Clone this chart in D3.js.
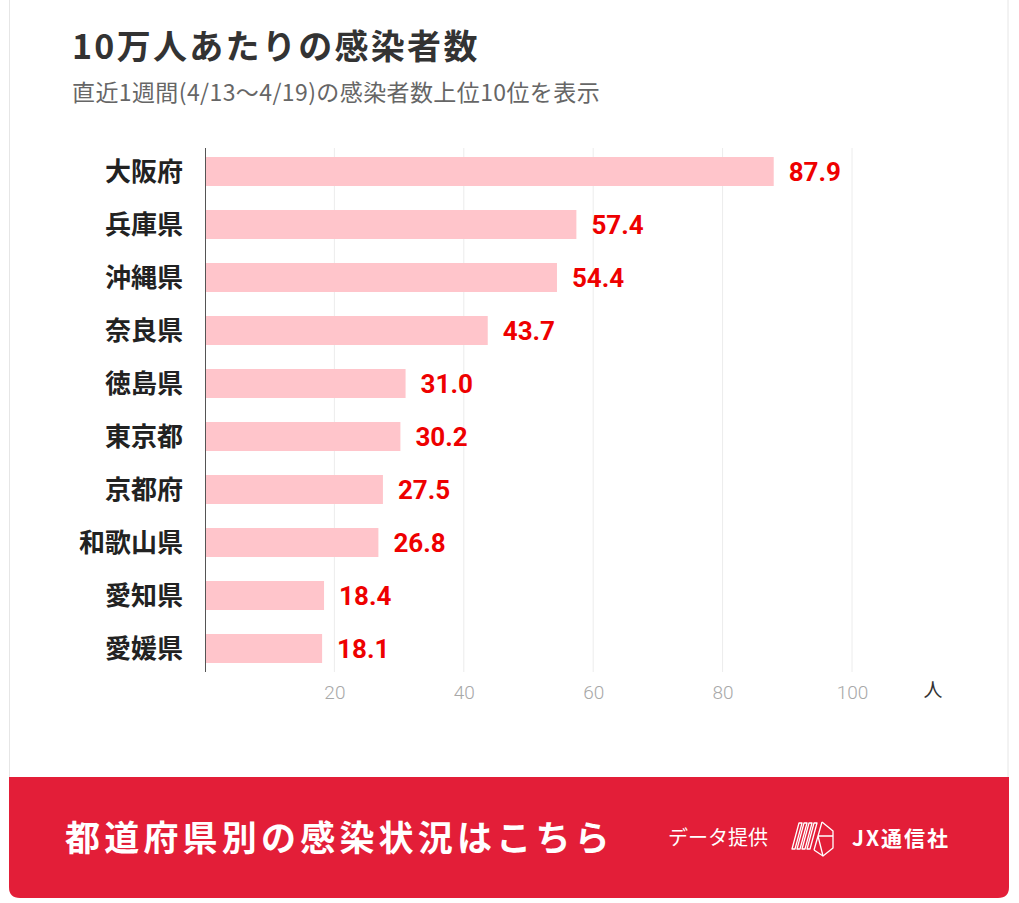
<!DOCTYPE html>
<html>
<head>
<meta charset="utf-8">
<script src="https://cdn.jsdelivr.net/npm/d3@7"></script>
<style>
  html, body { margin: 0; padding: 0; background: #fff; }
  svg { display: block; }
</style>
</head>
<body>
<svg id="chart" width="1019" height="903"></svg>
<script>
// data
const prefectures = ['大阪府', '兵庫県', '沖縄県', '奈良県', '徳島県', '東京都', '京都府', '和歌山県', '愛知県', '愛媛県']
const perCapita = [87.9, 57.4, 54.4, 43.7, 31.0, 30.2, 27.5, 26.8, 18.4, 18.1]
const tickValues = [20, 40, 60, 80, 100]

const jp = '"Noto Sans CJK JP", "Noto Sans", sans-serif'
const num = 'Roboto, "Noto Sans", sans-serif'

const svg = d3.select('#chart')

// card background + border
svg.append('path')
  .attr('d', 'M9.5,-2 V887 Q9.5,897 19.5,897 H998 Q1008,897 1008,887 V-2')
  .attr('fill', '#fff')
  .attr('stroke', '#e6e6e6')
  .attr('stroke-width', 1)

// title
svg.append('text')
  .attr('x', 72).attr('y', 59)
  .attr('font-family', jp).attr('font-weight', 700)
  .attr('font-size', 34).attr('letter-spacing', 2.3)
  .attr('fill', '#333')
  .text('10万人あたりの感染者数')

svg.append('text')
  .attr('x', 72).attr('y', 101)
  .attr('font-family', jp)
  .attr('font-size', 23).attr('letter-spacing', 0.4)
  .attr('fill', '#666')
  .text('直近1週間(4/13〜4/19)の感染者数上位10位を表示')

// scales
const x = d3.scaleLinear().domain([0, 100]).range([205, 852])
const y = d3.scaleBand().domain(prefectures).range([148, 672])
  .paddingInner(0.453).paddingOuter(0.17)

// gridlines
svg.append('g')
  .selectAll('line')
  .data(tickValues)
  .join('line')
  .attr('x1', d => x(d)).attr('x2', d => x(d))
  .attr('y1', 148).attr('y2', 672)
  .attr('stroke', '#ececec')
  .attr('stroke-width', 1)

// x axis tick labels
const axis = svg.append('g')
  .attr('transform', 'translate(0,672)')
  .call(d3.axisBottom(x).tickValues(tickValues).tickSize(0).tickPadding(14))
axis.select('.domain').remove()
axis.selectAll('text')
  .attr('font-family', num)
  .attr('font-weight', 300)
  .attr('font-size', 19)
  .attr('fill', '#a8a8a8')

svg.append('text')
  .attr('x', 933).attr('y', 697)
  .attr('text-anchor', 'middle')
  .attr('font-family', jp)
  .attr('font-size', 19)
  .attr('fill', '#333')
  .text('人')

// bars
svg.append('g')
  .selectAll('rect')
  .data(perCapita)
  .join('rect')
  .attr('x', x(0))
  .attr('y', (d, i) => y(prefectures[i]))
  .attr('width', d => x(d) - x(0))
  .attr('height', y.bandwidth())
  .attr('fill', '#ffc5cb')

// y axis line
svg.append('line')
  .attr('x1', 205.5).attr('x2', 205.5)
  .attr('y1', 148).attr('y2', 672)
  .attr('stroke', '#555')
  .attr('stroke-width', 1)

// category labels
svg.append('g')
  .selectAll('text')
  .data(prefectures)
  .join('text')
  .attr('x', 183)
  .attr('y', d => y(d) + y.bandwidth() / 2)
  .attr('dy', '0.36em')
  .attr('text-anchor', 'end')
  .attr('font-family', jp).attr('font-weight', 700)
  .attr('font-size', 26)
  .attr('fill', '#222')
  .text(d => d)

// value labels
svg.append('g')
  .selectAll('text')
  .data(perCapita)
  .join('text')
  .attr('x', d => x(d) + 15)
  .attr('y', (d, i) => y(prefectures[i]) + y.bandwidth() / 2)
  .attr('dy', '0.36em')
  .attr('font-family', num).attr('font-weight', 700)
  .attr('font-size', 26)
  .attr('fill', '#ee0000')
  .text(d => d.toFixed(1))

// footer
svg.append('path')
  .attr('d', 'M9,777 H1009 V887 Q1009,898 998,898 H20 Q9,898 9,887 Z')
  .attr('fill', '#e31e38')

svg.append('text')
  .attr('x', 65).attr('y', 851)
  .attr('font-family', jp).attr('font-weight', 700)
  .attr('font-size', 35).attr('letter-spacing', 4.2)
  .attr('fill', '#fff')
  .text('都道府県別の感染状況はこちら')

svg.append('text')
  .attr('x', 668).attr('y', 845)
  .attr('font-family', jp)
  .attr('font-size', 20)
  .attr('fill', '#fff')
  .text('データ提供')

// logo
const logo = svg.append('g')
  .attr('transform', 'translate(793,820)')
  .attr('fill', 'none')
  .attr('stroke', '#fff')
  .attr('stroke-width', 1.3)
  .attr('stroke-linejoin', 'round')
logo.append('path').attr('d', 'M29,2 L40,11 L40,28 L30,36 L21,30')
logo.append('path').attr('d', 'M29,2 L21,30 M25,16 L40,16 M25,16 L30,36')
const stripes = [0, 5, 10, 15]
logo.selectAll('.stripe')
  .data(stripes)
  .join('path')
  .attr('class', 'stripe')
  .attr('d', d => `M${6 + d},3 L${9 + d},3 L${2 + d},29 L${-1 + d},29 Z`)

svg.append('text')
  .attr('x', 852).attr('y', 846)
  .attr('font-family', jp).attr('font-weight', 700)
  .attr('font-size', 21).attr('letter-spacing', 2)
  .attr('fill', '#fff')
  .text('JX通信社')
</script>
</body>
</html>
